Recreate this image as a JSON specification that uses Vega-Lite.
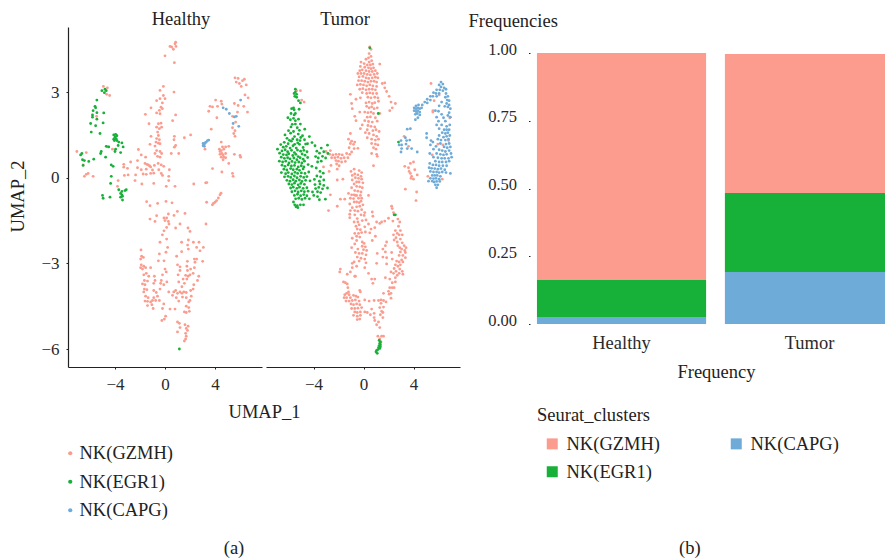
{"$schema":"https://vega.github.io/schema/vega-lite/v6.json","background":"white","padding":{"left":8,"top":9,"right":0,"bottom":0},"bounds":"flush","spacing":4,
"resolve":{"scale":{"color":"independent"},"legend":{"color":"independent"}},
"config":{"view":{"stroke":null},"font":"Liberation Serif","axis":{"grid":false,"labelFont":"Liberation Serif","titleFont":"Liberation Serif","labelFontSize":17,"titleFontSize":18.5,"labelColor":"#2a2a2a","titleColor":"#222222","titleFontWeight":"normal","domainColor":"#222222","tickColor":"#222222","labelFlush":false},"legend":{"labelFont":"Liberation Serif","titleFont":"Liberation Serif","labelFontSize":18.5,"titleFontSize":18.5,"titleFontWeight":"normal","labelColor":"#222222","titleColor":"#222222"},"title":{"font":"Liberation Serif","fontSize":18.5,"fontWeight":"normal","color":"#222222"}},
"datasets":{
"healthy":[
{"x":0.8,"y":4.69,"c":"G"},{"x":0.53,"y":4.58,"c":"G"},{"x":0.85,"y":4.75,"c":"G"},{"x":0.67,"y":4.5,"c":"G"},{"x":0.88,"y":4.6,"c":"G"},{"x":0.4,"y":4.6,"c":"G"},{"x":0,"y":4.27,"c":"G"},{"x":0.75,"y":4.03,"c":"G"},
{"x":-4.93,"y":3.2,"c":"G"},{"x":-4.61,"y":3.15,"c":"G"},{"x":-4.67,"y":2.92,"c":"G"},{"x":-4.43,"y":2.88,"c":"G"},{"x":-5.47,"y":2.15,"c":"G"},
{"x":-0.13,"y":3.2,"c":"G"},{"x":-0.4,"y":3.06,"c":"G"},{"x":0.72,"y":3,"c":"G"},{"x":-0.13,"y":2.88,"c":"G"},{"x":-0.4,"y":2.77,"c":"G"},{"x":0,"y":2.77,"c":"G"},{"x":-0.67,"y":2.7,"c":"G"},{"x":-0.21,"y":2.62,"c":"G"},{"x":-1.12,"y":2.45,"c":"G"},{"x":-0.32,"y":2.47,"c":"G"},{"x":-0.21,"y":2.42,"c":"G"},{"x":-0.45,"y":2.36,"c":"G"},{"x":-0.67,"y":2.27,"c":"G"},{"x":-0.4,"y":2.24,"c":"G"},{"x":-1.57,"y":2.22,"c":"G"},{"x":0.85,"y":2.2,"c":"G"},{"x":0.61,"y":2,"c":"G"},{"x":-1.28,"y":1.89,"c":"G"},{"x":-0.53,"y":1.89,"c":"G"},{"x":-0.32,"y":1.91,"c":"G"},{"x":-0.67,"y":1.77,"c":"G"},{"x":-0.45,"y":1.72,"c":"G"},{"x":-0.27,"y":1.77,"c":"G"},{"x":-0.59,"y":1.6,"c":"G"},{"x":1.55,"y":1.4,"c":"G"},{"x":2.05,"y":1.5,"c":"G"},{"x":-1.12,"y":1.45,"c":"G"},{"x":-0.53,"y":1.48,"c":"G"},{"x":-0.67,"y":1.37,"c":"G"},{"x":-0.45,"y":1.33,"c":"G"},{"x":0.75,"y":1.45,"c":"G"},{"x":0.72,"y":1.33,"c":"G"},{"x":-0.72,"y":1.25,"c":"G"},{"x":-0.53,"y":1.21,"c":"G"},{"x":-1.2,"y":1.17,"c":"G"},{"x":-0.8,"y":1.11,"c":"G"},{"x":-0.4,"y":1.19,"c":"G"},{"x":-2.13,"y":0.99,"c":"G"},{"x":0.85,"y":1.13,"c":"G"},{"x":0.75,"y":1.07,"c":"G"},{"x":-0.67,"y":0.95,"c":"G"},{"x":-0.8,"y":0.85,"c":"G"},{"x":-0.4,"y":0.92,"c":"G"},{"x":-0.27,"y":0.85,"c":"G"},{"x":-0.6,"y":0.75,"c":"G"},{"x":-1.9,"y":0.8,"c":"G"},{"x":-1.55,"y":0.72,"c":"G"},{"x":-0.4,"y":0.72,"c":"G"},{"x":0.5,"y":0.85,"c":"G"},{"x":1.1,"y":0.85,"c":"G"},{"x":-2.2,"y":0.6,"c":"G"},{"x":-2.75,"y":0.55,"c":"G"},{"x":-1.6,"y":0.5,"c":"G"},{"x":-1.45,"y":0.47,"c":"G"},{"x":-1.35,"y":0.45,"c":"G"},{"x":-1.25,"y":0.42,"c":"G"},{"x":-1.15,"y":0.38,"c":"G"},{"x":-0.55,"y":0.5,"c":"G"},{"x":-0.85,"y":0.43,"c":"G"},{"x":-0.3,"y":0.45,"c":"G"},{"x":-0.1,"y":0.4,"c":"G"},{"x":-3.3,"y":0.37,"c":"G"},{"x":-3.0,"y":0.33,"c":"G"},{"x":-2.2,"y":0.35,"c":"G"},{"x":-1.9,"y":0.28,"c":"G"},{"x":-1.5,"y":0.3,"c":"G"},{"x":-1.0,"y":0.27,"c":"G"},{"x":-0.5,"y":0.28,"c":"G"},{"x":0.35,"y":0.28,"c":"G"},{"x":-2.35,"y":0.1,"c":"G"},{"x":-1.75,"y":0.13,"c":"G"},{"x":-1.5,"y":0.12,"c":"G"},{"x":-1.15,"y":0.15,"c":"G"},{"x":-0.9,"y":0.16,"c":"G"},{"x":-0.3,"y":0.15,"c":"G"},{"x":-0.2,"y":0.08,"c":"G"},{"x":-3.25,"y":0.08,"c":"G"},{"x":-2.95,"y":0.1,"c":"G"},{"x":-3.75,"y":-0.1,"c":"G"},{"x":0.3,"y":0.05,"c":"G"},{"x":-2.4,"y":-0.1,"c":"G"},{"x":-1.85,"y":-0.22,"c":"G"},{"x":-0.9,"y":-0.2,"c":"G"},{"x":0.3,"y":-0.1,"c":"G"},{"x":0.1,"y":-0.3,"c":"G"},{"x":0.8,"y":-0.3,"c":"G"},{"x":-3.8,"y":-0.3,"c":"G"},{"x":2.3,"y":-0.22,"c":"G"},{"x":3.25,"y":-0.18,"c":"G"},{"x":3.35,"y":-0.17,"c":"G"},
{"x":-7.05,"y":0.92,"c":"G"},{"x":-6.3,"y":0.88,"c":"G"},{"x":-6.55,"y":0.45,"c":"G"},{"x":-6.3,"y":0.12,"c":"G"},{"x":-6.45,"y":0.05,"c":"G"},{"x":-6.15,"y":0.15,"c":"G"},{"x":-5.75,"y":0.05,"c":"G"},{"x":-3.3,"y":0.47,"c":"G"},{"x":-4.6,"y":1.08,"c":"G"},{"x":-4.2,"y":1.0,"c":"G"},
{"x":4.05,"y":2.72,"c":"G"},{"x":4.5,"y":2.68,"c":"G"},{"x":4.55,"y":2.58,"c":"G"},{"x":3.6,"y":2.5,"c":"G"},{"x":3.8,"y":2.48,"c":"G"},{"x":3.5,"y":2.33,"c":"G"},{"x":4.2,"y":2.5,"c":"G"},{"x":4.15,"y":2.1,"c":"G"},{"x":3.7,"y":1.7,"c":"G"},{"x":5.4,"y":2.15,"c":"G"},{"x":5.65,"y":1.95,"c":"G"},{"x":5.8,"y":2.3,"c":"G"},{"x":5.85,"y":2.53,"c":"G"},{"x":6.3,"y":2.5,"c":"G"},{"x":6.65,"y":2.8,"c":"G"},{"x":6.4,"y":2.9,"c":"G"},{"x":6.6,"y":2.3,"c":"G"},{"x":5.55,"y":2.6,"c":"G"},{"x":5.5,"y":1.55,"c":"G"},{"x":5.6,"y":1.65,"c":"G"},{"x":5.4,"y":1.75,"c":"G"},{"x":5.6,"y":1.45,"c":"G"},{"x":5.6,"y":3.5,"c":"G"},{"x":5.85,"y":3.48,"c":"G"},{"x":5.95,"y":3.3,"c":"G"},{"x":6.2,"y":3.4,"c":"G"},{"x":6.35,"y":3.45,"c":"G"},{"x":5.7,"y":3.35,"c":"G"},{"x":6.1,"y":3.2,"c":"G"},{"x":6.5,"y":3.25,"c":"G"},
{"x":3.2,"y":1.0,"c":"G"},{"x":4.5,"y":1.25,"c":"G"},{"x":4.6,"y":1.08,"c":"G"},{"x":4.35,"y":1.0,"c":"G"},{"x":4.4,"y":0.92,"c":"G"},{"x":4.5,"y":0.95,"c":"G"},{"x":4.7,"y":1.0,"c":"G"},{"x":4.85,"y":1.08,"c":"G"},{"x":5.1,"y":1.1,"c":"G"},{"x":4.4,"y":0.82,"c":"G"},{"x":4.55,"y":0.85,"c":"G"},{"x":4.65,"y":0.8,"c":"G"},{"x":4.85,"y":0.85,"c":"G"},{"x":4.5,"y":0.72,"c":"G"},{"x":4.7,"y":0.72,"c":"G"},{"x":4.85,"y":0.7,"c":"G"},{"x":4.65,"y":0.63,"c":"G"},{"x":5.55,"y":0.82,"c":"G"},{"x":6.0,"y":0.78,"c":"G"},{"x":6.05,"y":0.72,"c":"G"},{"x":5.1,"y":0.5,"c":"G"},{"x":3.8,"y":0.32,"c":"G"},{"x":4.55,"y":0.2,"c":"G"},{"x":5.4,"y":0.15,"c":"G"},{"x":5.45,"y":0.05,"c":"G"},
{"x":-1.47,"y":-0.84,"c":"G"},{"x":-1.2,"y":-0.98,"c":"G"},{"x":-0.59,"y":-0.9,"c":"G"},{"x":0.08,"y":-0.83,"c":"G"},{"x":0.56,"y":-0.88,"c":"G"},{"x":3.33,"y":-0.86,"c":"G"},{"x":3.79,"y":-0.95,"c":"G"},{"x":3.87,"y":-0.9,"c":"G"},{"x":4,"y":-0.86,"c":"G"},{"x":4.13,"y":-0.8,"c":"G"},{"x":4.27,"y":-0.71,"c":"G"},{"x":4.4,"y":-0.6,"c":"G"},{"x":4.48,"y":-0.54,"c":"G"},
{"x":0.99,"y":-1.18,"c":"G"},{"x":0.27,"y":-1.27,"c":"G"},{"x":0.72,"y":-1.32,"c":"G"},{"x":1.6,"y":-1.25,"c":"G"},{"x":-0.67,"y":-1.33,"c":"G"},{"x":-0.08,"y":-1.41,"c":"G"},{"x":0.13,"y":-1.41,"c":"G"},{"x":-1.2,"y":-1.45,"c":"G"},{"x":-0.8,"y":-1.53,"c":"G"},{"x":0,"y":-1.5,"c":"G"},{"x":0.27,"y":-1.53,"c":"G"},{"x":0.32,"y":-1.62,"c":"G"},{"x":1.2,"y":-1.62,"c":"G"},{"x":3.28,"y":-1.62,"c":"G"},{"x":0.13,"y":-1.74,"c":"G"},{"x":0.85,"y":-1.76,"c":"G"},{"x":1.84,"y":-1.76,"c":"G"},{"x":2,"y":-1.88,"c":"G"},{"x":-0.08,"y":-1.86,"c":"G"},{"x":-0.21,"y":-2,"c":"G"},{"x":-0.4,"y":-2.26,"c":"G"},{"x":0.13,"y":-2.15,"c":"G"},{"x":1.33,"y":-2.26,"c":"G"},{"x":1.87,"y":-2.18,"c":"G"},{"x":2.27,"y":-2.26,"c":"G"},{"x":2.72,"y":-2.26,"c":"G"},{"x":1.81,"y":-2.36,"c":"G"},{"x":0.21,"y":-2.44,"c":"G"},{"x":1.87,"y":-2.5,"c":"G"},{"x":2.53,"y":-2.44,"c":"G"},{"x":3.07,"y":-2.44,"c":"G"},{"x":-1.92,"y":-2.53,"c":"G"},{"x":1.33,"y":-2.59,"c":"G"},{"x":2.8,"y":-2.56,"c":"G"},{"x":-0.45,"y":-2.67,"c":"G"},{"x":0.08,"y":-2.61,"c":"G"},{"x":0.93,"y":-2.75,"c":"G"},{"x":-1.87,"y":-2.75,"c":"G"},{"x":-1.73,"y":-2.79,"c":"G"},{"x":-1.95,"y":-2.85,"c":"G"},{"x":-0.53,"y":-2.91,"c":"G"},{"x":-0.08,"y":-2.91,"c":"G"},{"x":1.79,"y":-2.93,"c":"G"},{"x":2.35,"y":-2.85,"c":"G"},{"x":2.53,"y":-2.85,"c":"G"},{"x":3.01,"y":-2.93,"c":"G"},{"x":2.4,"y":-2.96,"c":"G"},
{"x":-1.9,"y":-3.05,"c":"G"},{"x":-1.95,"y":-3.15,"c":"G"},{"x":-1.7,"y":-3.1,"c":"G"},{"x":-1.8,"y":-3.2,"c":"G"},{"x":-1.55,"y":-3.15,"c":"G"},{"x":-1.15,"y":-3.15,"c":"G"},{"x":0,"y":-3.2,"c":"G"},{"x":1.0,"y":-3.05,"c":"G"},{"x":1.2,"y":-3.12,"c":"G"},{"x":1.75,"y":-3.1,"c":"G"},{"x":2.05,"y":-3.2,"c":"G"},{"x":2.35,"y":-3.15,"c":"G"},{"x":1.2,"y":-3.25,"c":"G"},{"x":1.8,"y":-3.25,"c":"G"},{"x":-1.7,"y":-3.4,"c":"G"},{"x":-1.5,"y":-3.35,"c":"G"},{"x":-1.3,"y":-3.45,"c":"G"},{"x":-0.85,"y":-3.45,"c":"G"},{"x":-0.2,"y":-3.4,"c":"G"},{"x":0.1,"y":-3.3,"c":"G"},{"x":1.05,"y":-3.4,"c":"G"},{"x":1.65,"y":-3.42,"c":"G"},{"x":1.85,"y":-3.45,"c":"G"},{"x":2.0,"y":-3.4,"c":"G"},{"x":2.25,"y":-3.35,"c":"G"},{"x":2.7,"y":-3.45,"c":"G"},{"x":1.75,"y":-3.55,"c":"G"},{"x":1.45,"y":-3.55,"c":"G"},{"x":-0.3,"y":-3.6,"c":"G"},{"x":-0.8,"y":-3.6,"c":"G"},{"x":-1.65,"y":-3.6,"c":"G"},{"x":-1.4,"y":-3.62,"c":"G"},{"x":-0.9,"y":-3.7,"c":"G"},{"x":-1.8,"y":-3.72,"c":"G"},{"x":-1.6,"y":-3.75,"c":"G"},{"x":-0.35,"y":-3.7,"c":"G"},{"x":-0.1,"y":-3.75,"c":"G"},{"x":0.15,"y":-3.65,"c":"G"},{"x":1.1,"y":-3.65,"c":"G"},{"x":1.55,"y":-3.7,"c":"G"},{"x":2.6,"y":-3.6,"c":"G"},{"x":2.3,"y":-3.75,"c":"G"},{"x":1.35,"y":-3.82,"c":"G"},{"x":-1.65,"y":-3.9,"c":"G"},{"x":-1.45,"y":-3.92,"c":"G"},{"x":-1.7,"y":-4.0,"c":"G"},{"x":-0.9,"y":-3.95,"c":"G"},{"x":-0.7,"y":-4.02,"c":"G"},{"x":-0.4,"y":-3.9,"c":"G"},{"x":0.3,"y":-4.0,"c":"G"},{"x":0.7,"y":-4.0,"c":"G"},{"x":0.85,"y":-3.95,"c":"G"},{"x":1.0,"y":-4.05,"c":"G"},{"x":1.2,"y":-4.0,"c":"G"},{"x":1.35,"y":-4.05,"c":"G"},{"x":1.5,"y":-4.0,"c":"G"},{"x":1.7,"y":-4.02,"c":"G"},{"x":2.05,"y":-3.95,"c":"G"},{"x":2.25,"y":-3.9,"c":"G"},{"x":-1.55,"y":-4.15,"c":"G"},{"x":-1.35,"y":-4.2,"c":"G"},{"x":-0.9,"y":-4.2,"c":"G"},{"x":-0.6,"y":-4.15,"c":"G"},{"x":0.6,"y":-4.12,"c":"G"},{"x":0.9,"y":-4.2,"c":"G"},{"x":1.4,"y":-4.18,"c":"G"},{"x":1.7,"y":-4.2,"c":"G"},{"x":2.1,"y":-4.15,"c":"G"},{"x":-1.6,"y":-4.32,"c":"G"},{"x":-1.4,"y":-4.33,"c":"G"},{"x":-1.15,"y":-4.35,"c":"G"},{"x":-1.0,"y":-4.3,"c":"G"},{"x":-0.75,"y":-4.3,"c":"G"},{"x":-0.45,"y":-4.3,"c":"G"},{"x":1.1,"y":-4.32,"c":"G"},{"x":1.9,"y":-4.35,"c":"G"},{"x":2.0,"y":-4.3,"c":"G"},{"x":-1.4,"y":-4.48,"c":"G"},{"x":-1.05,"y":-4.45,"c":"G"},{"x":-0.95,"y":-4.58,"c":"G"},{"x":-0.1,"y":-4.42,"c":"G"},{"x":-0.2,"y":-4.58,"c":"G"},{"x":0.4,"y":-4.6,"c":"G"},{"x":0.8,"y":-4.6,"c":"G"},{"x":1.7,"y":-4.5,"c":"G"},{"x":1.9,"y":-4.55,"c":"G"},{"x":1.55,"y":-4.7,"c":"G"},{"x":1.7,"y":-4.72,"c":"G"},{"x":1.95,"y":-4.68,"c":"G"},{"x":0.05,"y":-4.85,"c":"G"},{"x":-0.05,"y":-4.95,"c":"G"},{"x":-0.25,"y":-5,"c":"G"},{"x":1,"y":-5.05,"c":"G"},{"x":1.15,"y":-5.1,"c":"G"},{"x":1.6,"y":-5.15,"c":"G"},{"x":1.85,"y":-5.2,"c":"G"},{"x":1.2,"y":-5.25,"c":"G"},{"x":1.7,"y":-5.28,"c":"G"},{"x":1.8,"y":-5.35,"c":"G"},{"x":1.0,"y":-5.4,"c":"G"},{"x":1.65,"y":-5.45,"c":"G"},{"x":1.7,"y":-5.55,"c":"G"},{"x":1.65,"y":-5.65,"c":"G"},{"x":1.55,"y":-5.72,"c":"G"},
{"x":-5.05,"y":3.05,"c":"E"},{"x":-4.8,"y":3.1,"c":"E"},{"x":-4.7,"y":3.05,"c":"E"},{"x":-4.85,"y":2.98,"c":"E"},{"x":-5.45,"y":2.72,"c":"E"},{"x":-5.6,"y":2.5,"c":"E"},{"x":-5.55,"y":2.45,"c":"E"},{"x":-5.75,"y":2.35,"c":"E"},{"x":-5.8,"y":2.2,"c":"E"},{"x":-5.8,"y":2.12,"c":"E"},{"x":-5.45,"y":2.28,"c":"E"},{"x":-4.9,"y":2.27,"c":"E"},{"x":-5.45,"y":2.05,"c":"E"},{"x":-5.95,"y":1.9,"c":"E"},{"x":-5.55,"y":1.82,"c":"E"},{"x":-4.95,"y":1.92,"c":"E"},{"x":-5.9,"y":1.6,"c":"E"},{"x":-5.2,"y":1.55,"c":"E"},
{"x":-4.1,"y":1.5,"c":"E"},{"x":-3.95,"y":1.52,"c":"E"},{"x":-3.85,"y":1.47,"c":"E"},{"x":-4.0,"y":1.42,"c":"E"},{"x":-3.9,"y":1.36,"c":"E"},{"x":-4.1,"y":1.35,"c":"E"},{"x":-4.05,"y":1.3,"c":"E"},{"x":-3.85,"y":1.3,"c":"E"},{"x":-3.7,"y":1.25,"c":"E"},{"x":-3.45,"y":1.22,"c":"E"},{"x":-3.75,"y":1.13,"c":"E"},{"x":-3.35,"y":1.08,"c":"E"},{"x":-4.7,"y":1.1,"c":"E"},{"x":-4.5,"y":1.08,"c":"E"},{"x":-3.95,"y":1.0,"c":"E"},{"x":-4.0,"y":0.92,"c":"E"},{"x":-3.55,"y":0.88,"c":"E"},{"x":-5.1,"y":0.92,"c":"E"},{"x":-5.15,"y":0.85,"c":"E"},{"x":-4.75,"y":0.72,"c":"E"},{"x":-6.75,"y":0.8,"c":"E"},{"x":-6.65,"y":0.85,"c":"E"},{"x":-6.6,"y":0.63,"c":"E"},{"x":-6.45,"y":0.6,"c":"E"},{"x":-6.1,"y":0.57,"c":"E"},{"x":-5.7,"y":0.65,"c":"E"},{"x":-6.55,"y":0.43,"c":"E"},{"x":-4.3,"y":0.45,"c":"E"},{"x":-4.15,"y":0.4,"c":"E"},{"x":-4.3,"y":0.05,"c":"E"},{"x":-4.35,"y":-0.2,"c":"E"},{"x":-3.7,"y":-0.42,"c":"E"},{"x":-3.45,"y":-0.48,"c":"E"},{"x":-3.55,"y":-0.55,"c":"E"},{"x":-3.45,"y":-0.6,"c":"E"},{"x":-3.4,"y":-0.65,"c":"E"},{"x":-3.2,"y":-0.45,"c":"E"},{"x":-3.1,"y":-0.42,"c":"E"},{"x":-5.0,"y":-0.62,"c":"E"},{"x":-4.95,"y":-0.72,"c":"E"},{"x":-4.4,"y":-0.68,"c":"E"},{"x":-3.55,"y":-0.68,"c":"E"},{"x":-3.4,"y":-0.78,"c":"E"},{"x":1.15,"y":-6,"c":"E"},
{"x":3.05,"y":1.2,"c":"C"},{"x":3.15,"y":1.18,"c":"C"},{"x":3.2,"y":1.22,"c":"C"},{"x":3.05,"y":1.12,"c":"C"},{"x":3.15,"y":1.1,"c":"C"},{"x":3.3,"y":1.25,"c":"C"},{"x":3.4,"y":1.3,"c":"C"},{"x":3.5,"y":1.32,"c":"C"},{"x":4.65,"y":2.45,"c":"C"},{"x":4.9,"y":2.4,"c":"C"},{"x":5.15,"y":2.25,"c":"C"},{"x":5.45,"y":1.9,"c":"C"},{"x":5.9,"y":1.8,"c":"C"},{"x":5.55,"y":2.13,"c":"C"},{"x":5.7,"y":2.15,"c":"C"},{"x":6.05,"y":2.72,"c":"C"}
],
"tumor":[
{"x":0.5,"y":4.58,"c":"G"},{"x":0.6,"y":4.5,"c":"G"},{"x":0.45,"y":4.35,"c":"G"},{"x":0.6,"y":4.25,"c":"G"},{"x":0.4,"y":4.2,"c":"G"},{"x":0.65,"y":4.1,"c":"G"},{"x":0.2,"y":4.15,"c":"G"},{"x":0.45,"y":4.05,"c":"G"},{"x":-0.2,"y":4.05,"c":"G"},{"x":0.05,"y":4.0,"c":"G"},{"x":0.3,"y":3.95,"c":"G"},{"x":0.55,"y":3.95,"c":"G"},{"x":0.75,"y":3.98,"c":"G"},{"x":1.3,"y":3.98,"c":"G"},{"x":-0.25,"y":3.9,"c":"G"},{"x":0.1,"y":3.87,"c":"G"},{"x":0.4,"y":3.85,"c":"G"},{"x":0.6,"y":3.82,"c":"G"},{"x":0.8,"y":3.85,"c":"G"},{"x":-0.3,"y":3.75,"c":"G"},{"x":-0.1,"y":3.78,"c":"G"},{"x":0.2,"y":3.75,"c":"G"},{"x":0.45,"y":3.72,"c":"G"},{"x":0.7,"y":3.72,"c":"G"},{"x":0.95,"y":3.75,"c":"G"},{"x":-0.45,"y":3.65,"c":"G"},{"x":-0.2,"y":3.65,"c":"G"},{"x":0.05,"y":3.65,"c":"G"},{"x":0.3,"y":3.62,"c":"G"},{"x":0.55,"y":3.6,"c":"G"},{"x":0.85,"y":3.62,"c":"G"},{"x":1.1,"y":3.65,"c":"G"},{"x":-0.35,"y":3.53,"c":"G"},{"x":-0.05,"y":3.55,"c":"G"},{"x":0.2,"y":3.5,"c":"G"},{"x":0.42,"y":3.48,"c":"G"},{"x":0.7,"y":3.5,"c":"G"},{"x":0.95,"y":3.52,"c":"G"},{"x":1.15,"y":3.5,"c":"G"},{"x":-0.4,"y":3.4,"c":"G"},{"x":-0.15,"y":3.4,"c":"G"},{"x":0.1,"y":3.38,"c":"G"},{"x":0.35,"y":3.35,"c":"G"},{"x":0.6,"y":3.38,"c":"G"},{"x":0.85,"y":3.38,"c":"G"},{"x":1.05,"y":3.35,"c":"G"},{"x":1.5,"y":3.3,"c":"G"},{"x":1.7,"y":3.32,"c":"G"},{"x":-0.5,"y":3.25,"c":"G"},{"x":-0.25,"y":3.27,"c":"G"},{"x":0,"y":3.25,"c":"G"},{"x":0.25,"y":3.22,"c":"G"},{"x":0.5,"y":3.25,"c":"G"},{"x":0.75,"y":3.22,"c":"G"},{"x":1.05,"y":3.2,"c":"G"},{"x":1.7,"y":3.15,"c":"G"},{"x":-0.3,"y":3.1,"c":"G"},{"x":-0.05,"y":3.12,"c":"G"},{"x":0.2,"y":3.08,"c":"G"},{"x":0.45,"y":3.1,"c":"G"},{"x":0.7,"y":3.1,"c":"G"},{"x":0.95,"y":3.08,"c":"G"},{"x":1.85,"y":3.02,"c":"G"},{"x":-1.05,"y":2.92,"c":"G"},{"x":-0.1,"y":2.98,"c":"G"},{"x":0.25,"y":2.95,"c":"G"},{"x":0.5,"y":2.97,"c":"G"},{"x":0.75,"y":2.95,"c":"G"},{"x":1.05,"y":2.95,"c":"G"},{"x":2.05,"y":2.85,"c":"G"},{"x":-0.6,"y":2.75,"c":"G"},{"x":-0.25,"y":2.8,"c":"G"},{"x":0.35,"y":2.82,"c":"G"},{"x":0.6,"y":2.8,"c":"G"},{"x":0.9,"y":2.82,"c":"G"},{"x":1.15,"y":2.8,"c":"G"},{"x":1.2,"y":2.68,"c":"G"},{"x":2.2,"y":2.65,"c":"G"},{"x":2.55,"y":2.6,"c":"G"},{"x":-0.95,"y":2.6,"c":"G"},{"x":0.2,"y":2.62,"c":"G"},{"x":0.45,"y":2.65,"c":"G"},{"x":0.7,"y":2.6,"c":"G"},{"x":0.9,"y":2.63,"c":"G"},{"x":2.3,"y":2.45,"c":"G"},{"x":-0.9,"y":2.42,"c":"G"},{"x":0.25,"y":2.5,"c":"G"},{"x":0.45,"y":2.45,"c":"G"},{"x":0.65,"y":2.48,"c":"G"},{"x":0.85,"y":2.42,"c":"G"},{"x":1.1,"y":2.45,"c":"G"},{"x":2.1,"y":2.35,"c":"G"},{"x":-0.3,"y":2.3,"c":"G"},{"x":0.1,"y":2.3,"c":"G"},{"x":0.35,"y":2.28,"c":"G"},{"x":0.6,"y":2.3,"c":"G"},{"x":0.8,"y":2.25,"c":"G"},{"x":1.3,"y":2.25,"c":"G"},{"x":-0.7,"y":2.15,"c":"G"},{"x":0.3,"y":2.12,"c":"G"},{"x":0.55,"y":2.13,"c":"G"},{"x":0.95,"y":2.1,"c":"G"},{"x":-0.6,"y":2.0,"c":"G"},{"x":0.1,"y":2.0,"c":"G"},{"x":0.4,"y":1.97,"c":"G"},{"x":0.7,"y":1.95,"c":"G"},{"x":1.1,"y":1.98,"c":"G"},{"x":-0.1,"y":1.85,"c":"G"},{"x":0.35,"y":1.83,"c":"G"},{"x":0.6,"y":1.8,"c":"G"},{"x":0.9,"y":1.78,"c":"G"},{"x":-0.25,"y":1.72,"c":"G"},{"x":0.3,"y":1.68,"c":"G"},{"x":0.75,"y":1.65,"c":"G"},{"x":1.0,"y":1.68,"c":"G"},{"x":1.25,"y":1.62,"c":"G"},{"x":-1.05,"y":1.55,"c":"G"},{"x":0.15,"y":1.58,"c":"G"},{"x":0.45,"y":1.55,"c":"G"},{"x":0.8,"y":1.5,"c":"G"},{"x":1.05,"y":1.45,"c":"G"},{"x":-1.2,"y":1.35,"c":"G"},{"x":0.3,"y":1.4,"c":"G"},{"x":0.65,"y":1.35,"c":"G"},{"x":0.95,"y":1.32,"c":"G"},{"x":1.2,"y":1.35,"c":"G"},{"x":-0.95,"y":1.28,"c":"G"},{"x":-0.7,"y":1.25,"c":"G"},{"x":-0.8,"y":1.17,"c":"G"},{"x":-1.05,"y":1.2,"c":"G"},{"x":0.65,"y":1.2,"c":"G"},{"x":0.95,"y":1.18,"c":"G"},{"x":1.15,"y":1.15,"c":"G"},{"x":-1.15,"y":1.05,"c":"G"},{"x":-0.75,"y":1.02,"c":"G"},{"x":-0.45,"y":1.03,"c":"G"},{"x":0.8,"y":1.05,"c":"G"},{"x":1.0,"y":1.0,"c":"G"},{"x":0.65,"y":0.85,"c":"G"},{"x":1.05,"y":0.82,"c":"G"},{"x":1.1,"y":0.75,"c":"G"},
{"x":-3.0,"y":0.92,"c":"G"},{"x":-2.65,"y":0.95,"c":"G"},{"x":-2.7,"y":0.82,"c":"G"},{"x":-2.45,"y":0.8,"c":"G"},{"x":-2.2,"y":0.82,"c":"G"},{"x":-1.95,"y":0.82,"c":"G"},{"x":-1.7,"y":0.8,"c":"G"},{"x":-1.35,"y":0.85,"c":"G"},{"x":-1.1,"y":0.82,"c":"G"},{"x":-0.95,"y":0.9,"c":"G"},{"x":-2.55,"y":0.7,"c":"G"},{"x":-2.3,"y":0.7,"c":"G"},{"x":-2.05,"y":0.72,"c":"G"},{"x":-1.8,"y":0.68,"c":"G"},{"x":-1.55,"y":0.7,"c":"G"},{"x":-1.25,"y":0.7,"c":"G"},{"x":-2.2,"y":0.6,"c":"G"},{"x":-2.0,"y":0.58,"c":"G"},{"x":-1.75,"y":0.55,"c":"G"},{"x":-1.45,"y":0.57,"c":"G"},{"x":-2.15,"y":0.48,"c":"G"},{"x":-1.95,"y":0.42,"c":"G"},{"x":-2.6,"y":0.43,"c":"G"},{"x":-2.75,"y":0.22,"c":"G"},{"x":-3.2,"y":0.38,"c":"G"},{"x":-2.1,"y":0.3,"c":"G"},
{"x":0.8,"y":0.42,"c":"G"},{"x":-0.75,"y":0.3,"c":"G"},{"x":-0.35,"y":0.25,"c":"G"},{"x":-1.0,"y":0.22,"c":"G"},{"x":-0.15,"y":0.18,"c":"G"},{"x":-0.7,"y":0.13,"c":"G"},{"x":-0.45,"y":0.1,"c":"G"},{"x":-0.9,"y":0.08,"c":"G"},{"x":-0.2,"y":0.05,"c":"G"},{"x":-0.65,"y":0,"c":"G"},{"x":-0.4,"y":-0.02,"c":"G"},{"x":-0.15,"y":-0.05,"c":"G"},{"x":-0.9,"y":-0.08,"c":"G"},{"x":-1.65,"y":-0.05,"c":"G"},{"x":-2.1,"y":-0.08,"c":"G"},{"x":-0.55,"y":-0.15,"c":"G"},{"x":-0.35,"y":-0.15,"c":"G"},{"x":-0.75,"y":-0.22,"c":"G"},{"x":-0.05,"y":-0.18,"c":"G"},{"x":-0.95,"y":-0.35,"c":"G"},{"x":-0.55,"y":-0.3,"c":"G"},{"x":-0.3,"y":-0.32,"c":"G"},{"x":-0.1,"y":-0.35,"c":"G"},{"x":-0.7,"y":-0.45,"c":"G"},{"x":-0.45,"y":-0.47,"c":"G"},{"x":-0.2,"y":-0.5,"c":"G"},{"x":-1.2,"y":-0.55,"c":"G"},{"x":-0.95,"y":-0.6,"c":"G"},{"x":-0.75,"y":-0.6,"c":"G"},{"x":-0.55,"y":-0.62,"c":"G"},{"x":-0.25,"y":-0.62,"c":"G"},{"x":-1.05,"y":-0.72,"c":"G"},{"x":-0.8,"y":-0.73,"c":"G"},{"x":-0.4,"y":-0.72,"c":"G"},{"x":-0.15,"y":-0.72,"c":"G"},{"x":0.4,"y":-0.62,"c":"G"},{"x":-1.5,"y":-0.75,"c":"G"},
{"x":-0.65,"y":-0.62,"c":"G"},{"x":-0.2,"y":-0.82,"c":"G"},{"x":-0.55,"y":-0.85,"c":"G"},{"x":-0.75,"y":-0.85,"c":"G"},{"x":-0.35,"y":-0.87,"c":"G"},{"x":-2.65,"y":-0.6,"c":"G"},{"x":-2.8,"y":-1.15,"c":"G"},{"x":-2.1,"y":-1,"c":"G"},{"x":-1.85,"y":-0.75,"c":"G"},{"x":-1.1,"y":-0.92,"c":"G"},{"x":-0.9,"y":-1.05,"c":"G"},{"x":-0.55,"y":-1.02,"c":"G"},{"x":-0.3,"y":-1,"c":"G"},{"x":-0.05,"y":-0.95,"c":"G"},{"x":-1.05,"y":-1.15,"c":"G"},{"x":-0.7,"y":-1.15,"c":"G"},{"x":-0.45,"y":-1.17,"c":"G"},{"x":-0.15,"y":-1.12,"c":"G"},{"x":0.1,"y":-1.22,"c":"G"},{"x":-1.1,"y":-1.28,"c":"G"},{"x":-0.7,"y":-1.3,"c":"G"},{"x":-0.2,"y":-1.3,"c":"G"},{"x":0.05,"y":-1.32,"c":"G"},{"x":0.7,"y":-1.2,"c":"G"},{"x":-1.1,"y":-1.4,"c":"G"},{"x":-0.5,"y":-1.43,"c":"G"},{"x":-0.45,"y":-1.55,"c":"G"},{"x":-0.75,"y":-1.55,"c":"G"},{"x":0.2,"y":-1.48,"c":"G"},{"x":0.75,"y":-1.35,"c":"G"},{"x":-0.1,"y":-1.5,"c":"G"},{"x":-0.35,"y":-1.65,"c":"G"},{"x":-0.6,"y":-1.7,"c":"G"},{"x":0.4,"y":-1.62,"c":"G"},{"x":1.05,"y":-1.55,"c":"G"},{"x":1.3,"y":-1.6,"c":"G"},{"x":0.1,"y":-1.72,"c":"G"},{"x":1.45,"y":-1.55,"c":"G"},{"x":-0.5,"y":-1.8,"c":"G"},{"x":-0.25,"y":-1.82,"c":"G"},{"x":0.6,"y":-1.8,"c":"G"},{"x":0.9,"y":-1.75,"c":"G"},{"x":-0.7,"y":-1.95,"c":"G"},{"x":-0.4,"y":-1.95,"c":"G"},{"x":-0.15,"y":-1.92,"c":"G"},{"x":0.15,"y":-1.9,"c":"G"},{"x":0.5,"y":-1.93,"c":"G"},{"x":-0.55,"y":-2.05,"c":"G"},{"x":-0.3,"y":-2.08,"c":"G"},{"x":-0.9,"y":-2.12,"c":"G"},{"x":0.95,"y":-2.05,"c":"G"},{"x":-0.55,"y":-2.2,"c":"G"},{"x":-0.7,"y":-2.32,"c":"G"},{"x":-0.1,"y":-2.25,"c":"G"},{"x":0.05,"y":-2.3,"c":"G"},{"x":-0.1,"y":-2.4,"c":"G"},{"x":0.15,"y":-2.42,"c":"G"},{"x":-0.95,"y":-2.45,"c":"G"},{"x":-0.45,"y":-2.5,"c":"G"},{"x":0,"y":-2.52,"c":"G"},{"x":0.25,"y":-2.55,"c":"G"},{"x":-0.65,"y":-2.62,"c":"G"},{"x":-0.35,"y":-2.65,"c":"G"},{"x":-0.1,"y":-2.65,"c":"G"},{"x":0.2,"y":-2.7,"c":"G"},{"x":-0.5,"y":-2.78,"c":"G"},{"x":-0.2,"y":-2.82,"c":"G"},{"x":0.1,"y":-2.85,"c":"G"},{"x":1.1,"y":-2.65,"c":"G"},{"x":-0.75,"y":-2.95,"c":"G"},{"x":-0.35,"y":-2.92,"c":"G"},{"x":0.2,"y":-2.98,"c":"G"},{"x":-0.9,"y":-3.0,"c":"G"},{"x":-0.9,"y":-3.15,"c":"G"},{"x":-0.55,"y":-3.1,"c":"G"},{"x":0.1,"y":-3.15,"c":"G"},{"x":1.05,"y":-3.0,"c":"G"},{"x":-1.05,"y":-3.3,"c":"G"},{"x":-0.65,"y":-3.45,"c":"G"},{"x":-1.85,"y":-3.2,"c":"G"},{"x":-1.9,"y":-3.3,"c":"G"},{"x":-1.3,"y":-3.38,"c":"G"},{"x":-0.7,"y":-3.45,"c":"G"},{"x":0.4,"y":-3.35,"c":"G"},{"x":0.65,"y":-3.55,"c":"G"},{"x":0.9,"y":-3.55,"c":"G"},{"x":0.75,"y":-3.7,"c":"G"},
{"x":-1.6,"y":-3.65,"c":"G"},{"x":-1.45,"y":-3.68,"c":"G"},{"x":-1.3,"y":-3.72,"c":"G"},{"x":-1.25,"y":-3.85,"c":"G"},{"x":-1.2,"y":-4.0,"c":"G"},{"x":-0.3,"y":-3.95,"c":"G"},{"x":-0.25,"y":-4.0,"c":"G"},{"x":-1.35,"y":-4.05,"c":"G"},{"x":-1.5,"y":-4.1,"c":"G"},{"x":-1.15,"y":-4.1,"c":"G"},{"x":-1.55,"y":-4.2,"c":"G"},{"x":-1.35,"y":-4.2,"c":"G"},{"x":-1.05,"y":-4.2,"c":"G"},{"x":-0.8,"y":-4.12,"c":"G"},{"x":-0.6,"y":-4.15,"c":"G"},{"x":-0.45,"y":-4.18,"c":"G"},{"x":-1.4,"y":-4.32,"c":"G"},{"x":-1.15,"y":-4.32,"c":"G"},{"x":-0.9,"y":-4.3,"c":"G"},{"x":-0.65,"y":-4.28,"c":"G"},{"x":-0.35,"y":-4.32,"c":"G"},{"x":0.1,"y":-4.28,"c":"G"},{"x":0.45,"y":-4.32,"c":"G"},{"x":0.85,"y":-4.3,"c":"G"},{"x":1.2,"y":-4.3,"c":"G"},{"x":1.4,"y":-4.28,"c":"G"},{"x":1.6,"y":-4.3,"c":"G"},{"x":-1.0,"y":-4.42,"c":"G"},{"x":-0.8,"y":-4.45,"c":"G"},{"x":-0.55,"y":-4.42,"c":"G"},{"x":-0.3,"y":-4.45,"c":"G"},{"x":1.4,"y":-4.4,"c":"G"},{"x":1.8,"y":-4.35,"c":"G"},{"x":-0.95,"y":-4.58,"c":"G"},{"x":-0.7,"y":-4.58,"c":"G"},{"x":-0.45,"y":-4.57,"c":"G"},{"x":-0.15,"y":-4.55,"c":"G"},{"x":1.3,"y":-4.55,"c":"G"},{"x":1.6,"y":-4.53,"c":"G"},{"x":-0.7,"y":-4.7,"c":"G"},{"x":-0.5,"y":-4.72,"c":"G"},{"x":-0.25,"y":-4.7,"c":"G"},{"x":0.1,"y":-4.7,"c":"G"},{"x":0.65,"y":-4.6,"c":"G"},{"x":1.45,"y":-4.68,"c":"G"},{"x":-0.8,"y":-4.82,"c":"G"},{"x":-0.5,"y":-4.85,"c":"G"},{"x":-0.25,"y":-4.82,"c":"G"},{"x":0.3,"y":-4.72,"c":"G"},{"x":0.55,"y":-4.8,"c":"G"},{"x":0.85,"y":-4.75,"c":"G"},{"x":1.35,"y":-4.8,"c":"G"},{"x":1.55,"y":-4.72,"c":"G"},{"x":-0.5,"y":-4.97,"c":"G"},{"x":-0.3,"y":-4.95,"c":"G"},{"x":0.85,"y":-4.9,"c":"G"},{"x":1.55,"y":-4.9,"c":"G"},{"x":0.9,"y":-5.0,"c":"G"},{"x":1.2,"y":-5.05,"c":"G"},{"x":1.05,"y":-5.15,"c":"G"},{"x":1.3,"y":-5.25,"c":"G"},{"x":1.45,"y":-5.55,"c":"G"},{"x":1.6,"y":-5.55,"c":"G"},{"x":1.3,"y":-5.65,"c":"G"},{"x":1.4,"y":-5.75,"c":"G"},
{"x":2.25,"y":-1.0,"c":"G"},{"x":2.3,"y":-1.08,"c":"G"},{"x":2.4,"y":-1.22,"c":"G"},{"x":2.35,"y":-1.52,"c":"G"},{"x":2.75,"y":-1.45,"c":"G"},{"x":2.9,"y":-1.55,"c":"G"},{"x":1.7,"y":-1.52,"c":"G"},{"x":2.0,"y":-1.42,"c":"G"},{"x":2.8,"y":-1.7,"c":"G"},{"x":2.55,"y":-1.85,"c":"G"},{"x":2.95,"y":-1.85,"c":"G"},{"x":2.7,"y":-1.95,"c":"G"},{"x":2.4,"y":-2.0,"c":"G"},{"x":2.85,"y":-2.0,"c":"G"},{"x":3.1,"y":-2.0,"c":"G"},{"x":2.6,"y":-2.1,"c":"G"},{"x":2.95,"y":-2.15,"c":"G"},{"x":2.45,"y":-2.18,"c":"G"},{"x":1.85,"y":-2.25,"c":"G"},{"x":2.7,"y":-2.25,"c":"G"},{"x":3.1,"y":-2.28,"c":"G"},{"x":2.75,"y":-2.38,"c":"G"},{"x":3.25,"y":-2.38,"c":"G"},{"x":1.75,"y":-2.38,"c":"G"},{"x":2.9,"y":-2.45,"c":"G"},{"x":3.4,"y":-2.45,"c":"G"},{"x":3.05,"y":-2.5,"c":"G"},{"x":1.55,"y":-2.5,"c":"G"},{"x":3.3,"y":-2.55,"c":"G"},{"x":2.95,"y":-2.6,"c":"G"},{"x":3.35,"y":-2.62,"c":"G"},{"x":2.25,"y":-2.62,"c":"G"},{"x":1.75,"y":-2.6,"c":"G"},{"x":3.15,"y":-2.72,"c":"G"},{"x":2.85,"y":-2.72,"c":"G"},{"x":3.35,"y":-2.8,"c":"G"},{"x":1.55,"y":-2.78,"c":"G"},{"x":1.85,"y":-2.8,"c":"G"},{"x":2.3,"y":-2.85,"c":"G"},{"x":3.05,"y":-2.88,"c":"G"},{"x":2.65,"y":-2.92,"c":"G"},{"x":2.85,"y":-2.95,"c":"G"},{"x":3.15,"y":-2.95,"c":"G"},{"x":1.85,"y":-3.02,"c":"G"},{"x":2.55,"y":-3.05,"c":"G"},{"x":2.75,"y":-3.1,"c":"G"},{"x":2.95,"y":-3.05,"c":"G"},{"x":2.45,"y":-3.18,"c":"G"},{"x":2.9,"y":-3.2,"c":"G"},{"x":3.1,"y":-3.28,"c":"G"},{"x":2.2,"y":-3.3,"c":"G"},{"x":2.6,"y":-3.28,"c":"G"},{"x":2.4,"y":-3.35,"c":"G"},{"x":2.85,"y":-3.35,"c":"G"},{"x":3.15,"y":-3.38,"c":"G"},{"x":2.7,"y":-3.42,"c":"G"},{"x":2.55,"y":-3.5,"c":"G"},{"x":1.75,"y":-3.5,"c":"G"},{"x":2.1,"y":-3.55,"c":"G"},{"x":2.55,"y":-3.65,"c":"G"},{"x":2.3,"y":-3.68,"c":"G"},{"x":2.3,"y":-3.85,"c":"G"},{"x":2.1,"y":-3.85,"c":"G"},{"x":2.0,"y":-3.98,"c":"G"},{"x":2.45,"y":-3.85,"c":"G"},{"x":2.2,"y":-4.05,"c":"G"},{"x":2.05,"y":-4.08,"c":"G"},{"x":1.6,"y":-4.05,"c":"G"},{"x":2.2,"y":-4.22,"c":"G"},
{"x":1.15,"y":-5.55,"c":"G"},{"x":5.4,"y":3.3,"c":"G"},{"x":6.05,"y":2.9,"c":"G"},{"x":5.65,"y":2.7,"c":"G"},{"x":5.55,"y":2.35,"c":"G"},{"x":5.55,"y":2.3,"c":"G"},{"x":6.9,"y":2.1,"c":"G"},{"x":3.25,"y":1.45,"c":"G"},{"x":6.8,"y":1.3,"c":"G"},{"x":5.95,"y":1.18,"c":"G"},{"x":6.35,"y":1.15,"c":"G"},{"x":3.6,"y":1.1,"c":"G"},{"x":5.5,"y":0.8,"c":"G"},{"x":3.3,"y":0.4,"c":"G"},{"x":3.6,"y":0.35,"c":"G"},{"x":3.75,"y":0.5,"c":"G"},{"x":4.0,"y":0.55,"c":"G"},{"x":3.65,"y":0.22,"c":"G"},{"x":3.75,"y":0.15,"c":"G"},{"x":3.85,"y":0.05,"c":"G"},{"x":4.1,"y":0.28,"c":"G"},{"x":3.8,"y":-0.02,"c":"G"},{"x":4.0,"y":-0.05,"c":"G"},{"x":4.3,"y":0.1,"c":"G"},{"x":3.35,"y":-0.4,"c":"G"},{"x":4.25,"y":-0.5,"c":"G"},{"x":4.2,"y":-0.8,"c":"G"},{"x":5.15,"y":0.05,"c":"G"},{"x":6.3,"y":-0.05,"c":"G"},
{"x":-5.35,"y":3.05,"c":"G"},{"x":-5.05,"y":3.05,"c":"G"},{"x":-4.95,"y":2.72,"c":"G"},{"x":-4.75,"y":2.65,"c":"G"},{"x":0.7,"y":-2.2,"c":"G"},
{"x":-5.45,"y":3.1,"c":"E"},{"x":-5.45,"y":3.0,"c":"E"},{"x":-5.55,"y":2.95,"c":"E"},{"x":-5.35,"y":2.92,"c":"E"},{"x":-5.5,"y":2.85,"c":"E"},{"x":-5.35,"y":2.82,"c":"E"},{"x":-5.2,"y":2.7,"c":"E"},{"x":-5.05,"y":2.62,"c":"E"},{"x":-5.6,"y":2.45,"c":"E"},{"x":-5.75,"y":2.42,"c":"E"},{"x":-5.55,"y":2.38,"c":"E"},{"x":-5.15,"y":2.4,"c":"E"},{"x":-5.8,"y":2.25,"c":"E"},{"x":-5.55,"y":2.2,"c":"E"},{"x":-5.45,"y":2.25,"c":"E"},{"x":-6.05,"y":2.1,"c":"E"},{"x":-5.85,"y":2.03,"c":"E"},{"x":-5.6,"y":2.08,"c":"E"},{"x":-5.45,"y":2,"c":"E"},{"x":-5.2,"y":2.05,"c":"E"},{"x":-5.7,"y":1.87,"c":"E"},{"x":-5.45,"y":1.88,"c":"E"},{"x":-5.8,"y":1.78,"c":"E"},{"x":-5.3,"y":1.75,"c":"E"},{"x":-5.05,"y":1.88,"c":"E"},{"x":-6.0,"y":1.65,"c":"E"},{"x":-5.6,"y":1.62,"c":"E"},{"x":-5.13,"y":1.66,"c":"E"},{"x":-4.7,"y":1.7,"c":"E"},{"x":-6.28,"y":1.5,"c":"E"},{"x":-5.83,"y":1.56,"c":"E"},{"x":-5.52,"y":1.44,"c":"E"},{"x":-5.22,"y":1.53,"c":"E"},{"x":-4.88,"y":1.47,"c":"E"},{"x":-6.12,"y":1.38,"c":"E"},{"x":-5.93,"y":1.31,"c":"E"},{"x":-5.66,"y":1.36,"c":"E"},{"x":-5.31,"y":1.33,"c":"E"},{"x":-5.02,"y":1.41,"c":"E"},{"x":-4.33,"y":1.44,"c":"E"},{"x":-6.34,"y":1.24,"c":"E"},{"x":-6.03,"y":1.19,"c":"E"},{"x":-5.77,"y":1.28,"c":"E"},{"x":-5.51,"y":1.17,"c":"E"},{"x":-5.26,"y":1.22,"c":"E"},{"x":-5.08,"y":1.3,"c":"E"},{"x":-4.72,"y":1.33,"c":"E"},{"x":-4.48,"y":1.19,"c":"E"},{"x":-6.62,"y":1.16,"c":"E"},{"x":-6.42,"y":1.07,"c":"E"},{"x":-6.18,"y":1.1,"c":"E"},{"x":-5.87,"y":1.04,"c":"E"},{"x":-5.64,"y":1.12,"c":"E"},{"x":-5.38,"y":1.04,"c":"E"},{"x":-5.12,"y":1.17,"c":"E"},{"x":-4.83,"y":1.06,"c":"E"},{"x":-4.63,"y":1.18,"c":"E"},{"x":-4.12,"y":1.23,"c":"E"},{"x":-3.88,"y":1.12,"c":"E"},{"x":-6.88,"y":1.0,"c":"E"},{"x":-6.52,"y":0.94,"c":"E"},{"x":-6.27,"y":0.98,"c":"E"},{"x":-6.07,"y":0.91,"c":"E"},{"x":-5.76,"y":0.96,"c":"E"},{"x":-5.53,"y":0.88,"c":"E"},{"x":-5.28,"y":0.97,"c":"E"},{"x":-5.03,"y":0.93,"c":"E"},{"x":-4.77,"y":0.96,"c":"E"},{"x":-4.52,"y":0.91,"c":"E"},{"x":-3.38,"y":1.04,"c":"E"},{"x":-2.88,"y":1.14,"c":"E"},{"x":-6.71,"y":0.86,"c":"E"},{"x":-6.42,"y":0.81,"c":"E"},{"x":-6.16,"y":0.8,"c":"E"},{"x":-5.98,"y":0.84,"c":"E"},{"x":-5.66,"y":0.78,"c":"E"},{"x":-5.41,"y":0.82,"c":"E"},{"x":-5.23,"y":0.74,"c":"E"},{"x":-4.91,"y":0.83,"c":"E"},{"x":-4.68,"y":0.79,"c":"E"},{"x":-3.73,"y":0.93,"c":"E"},{"x":-3.52,"y":0.86,"c":"E"},{"x":-3.18,"y":0.91,"c":"E"},{"x":-6.58,"y":0.72,"c":"E"},{"x":-6.33,"y":0.68,"c":"E"},{"x":-6.07,"y":0.7,"c":"E"},{"x":-5.88,"y":0.66,"c":"E"},{"x":-5.57,"y":0.69,"c":"E"},{"x":-5.33,"y":0.63,"c":"E"},{"x":-5.07,"y":0.7,"c":"E"},{"x":-4.83,"y":0.65,"c":"E"},{"x":-4.47,"y":0.71,"c":"E"},{"x":-3.83,"y":0.74,"c":"E"},{"x":-3.62,"y":0.69,"c":"E"},{"x":-3.28,"y":0.75,"c":"E"},{"x":-3.03,"y":0.69,"c":"E"},{"x":-6.73,"y":0.58,"c":"E"},{"x":-6.47,"y":0.55,"c":"E"},{"x":-6.22,"y":0.58,"c":"E"},{"x":-5.96,"y":0.52,"c":"E"},{"x":-5.72,"y":0.57,"c":"E"},{"x":-5.47,"y":0.53,"c":"E"},{"x":-5.18,"y":0.55,"c":"E"},{"x":-4.93,"y":0.52,"c":"E"},{"x":-4.72,"y":0.58,"c":"E"},{"x":-3.67,"y":0.55,"c":"E"},{"x":-3.38,"y":0.58,"c":"E"},{"x":-6.52,"y":0.44,"c":"E"},{"x":-6.28,"y":0.4,"c":"E"},{"x":-6.03,"y":0.45,"c":"E"},{"x":-5.77,"y":0.41,"c":"E"},{"x":-5.52,"y":0.43,"c":"E"},{"x":-5.22,"y":0.38,"c":"E"},{"x":-4.98,"y":0.42,"c":"E"},{"x":-4.77,"y":0.38,"c":"E"},{"x":-4.43,"y":0.46,"c":"E"},{"x":-4.13,"y":0.4,"c":"E"},{"x":-6.37,"y":0.3,"c":"E"},{"x":-6.13,"y":0.27,"c":"E"},{"x":-5.83,"y":0.32,"c":"E"},{"x":-5.62,"y":0.28,"c":"E"},{"x":-5.33,"y":0.3,"c":"E"},{"x":-5.12,"y":0.26,"c":"E"},{"x":-4.83,"y":0.31,"c":"E"},{"x":-3.78,"y":0.34,"c":"E"},{"x":-6.57,"y":0.18,"c":"E"},{"x":-6.23,"y":0.14,"c":"E"},{"x":-6.02,"y":0.18,"c":"E"},{"x":-5.73,"y":0.13,"c":"E"},{"x":-5.48,"y":0.19,"c":"E"},{"x":-5.27,"y":0.15,"c":"E"},{"x":-4.97,"y":0.17,"c":"E"},{"x":-4.68,"y":0.15,"c":"E"},{"x":-4.38,"y":0.2,"c":"E"},{"x":-3.48,"y":0.22,"c":"E"},{"x":-3.22,"y":0.16,"c":"E"},{"x":-6.32,"y":0.03,"c":"E"},{"x":-6.03,"y":0.05,"c":"E"},{"x":-5.82,"y":0.01,"c":"E"},{"x":-5.53,"y":0.06,"c":"E"},{"x":-5.32,"y":0,"c":"E"},{"x":-5.03,"y":0.05,"c":"E"},{"x":-4.78,"y":0.01,"c":"E"},{"x":-4.53,"y":0.04,"c":"E"},{"x":-3.73,"y":0.06,"c":"E"},{"x":-3.43,"y":0.03,"c":"E"},{"x":-6.13,"y":-0.09,"c":"E"},{"x":-5.88,"y":-0.12,"c":"E"},{"x":-5.63,"y":-0.07,"c":"E"},{"x":-5.42,"y":-0.12,"c":"E"},{"x":-5.13,"y":-0.08,"c":"E"},{"x":-4.92,"y":-0.13,"c":"E"},{"x":-4.63,"y":-0.09,"c":"E"},{"x":-4.28,"y":-0.11,"c":"E"},{"x":-3.93,"y":-0.06,"c":"E"},{"x":-3.53,"y":-0.12,"c":"E"},{"x":-3.18,"y":-0.08,"c":"E"},{"x":-5.97,"y":-0.22,"c":"E"},{"x":-5.73,"y":-0.24,"c":"E"},{"x":-5.52,"y":-0.19,"c":"E"},{"x":-5.23,"y":-0.25,"c":"E"},{"x":-5.02,"y":-0.2,"c":"E"},{"x":-4.73,"y":-0.23,"c":"E"},{"x":-3.88,"y":-0.24,"c":"E"},{"x":-3.48,"y":-0.22,"c":"E"},{"x":-3.18,"y":-0.27,"c":"E"},{"x":-5.83,"y":-0.36,"c":"E"},{"x":-5.62,"y":-0.33,"c":"E"},{"x":-5.33,"y":-0.37,"c":"E"},{"x":-5.12,"y":-0.33,"c":"E"},{"x":-4.83,"y":-0.37,"c":"E"},{"x":-4.53,"y":-0.35,"c":"E"},{"x":-3.83,"y":-0.38,"c":"E"},{"x":-3.58,"y":-0.34,"c":"E"},{"x":-3.28,"y":-0.39,"c":"E"},{"x":-2.88,"y":-0.36,"c":"E"},{"x":-5.73,"y":-0.49,"c":"E"},{"x":-5.48,"y":-0.46,"c":"E"},{"x":-5.23,"y":-0.5,"c":"E"},{"x":-4.98,"y":-0.46,"c":"E"},{"x":-4.73,"y":-0.49,"c":"E"},{"x":-4.43,"y":-0.47,"c":"E"},{"x":-4.08,"y":-0.5,"c":"E"},{"x":-3.68,"y":-0.49,"c":"E"},{"x":-3.43,"y":-0.52,"c":"E"},{"x":-5.53,"y":-0.62,"c":"E"},{"x":-5.28,"y":-0.58,"c":"E"},{"x":-5.03,"y":-0.63,"c":"E"},{"x":-4.78,"y":-0.59,"c":"E"},{"x":-4.53,"y":-0.63,"c":"E"},{"x":-3.98,"y":-0.62,"c":"E"},{"x":-3.68,"y":-0.66,"c":"E"},{"x":-5.43,"y":-0.74,"c":"E"},{"x":-5.18,"y":-0.72,"c":"E"},{"x":-4.93,"y":-0.76,"c":"E"},{"x":-4.68,"y":-0.72,"c":"E"},{"x":-4.33,"y":-0.74,"c":"E"},{"x":-3.53,"y":-0.77,"c":"E"},{"x":-5.6,"y":-0.85,"c":"E"},{"x":-5.3,"y":-0.98,"c":"E"},{"x":-5.4,"y":-1.02,"c":"E"},{"x":-5.25,"y":-1.05,"c":"E"},{"x":-5.05,"y":-0.95,"c":"E"},{"x":-4.8,"y":-0.95,"c":"E"},{"x":-3.05,"y":-0.75,"c":"E"},{"x":-5.5,"y":-0.95,"c":"E"},
{"x":0.5,"y":4.55,"c":"E"},{"x":1.18,"y":2.25,"c":"E"},{"x":2.45,"y":-1.3,"c":"E"},{"x":2.55,"y":-1.3,"c":"E"},{"x":1.25,"y":-5.7,"c":"E"},{"x":1.35,"y":-5.75,"c":"E"},{"x":1.3,"y":-5.8,"c":"E"},{"x":1.35,"y":-5.85,"c":"E"},{"x":1.25,"y":-5.88,"c":"E"},{"x":1.35,"y":-5.92,"c":"E"},{"x":1.2,"y":-5.95,"c":"E"},{"x":1.3,"y":-5.98,"c":"E"},{"x":1.15,"y":-6.02,"c":"E"},{"x":1.05,"y":-6.05,"c":"E"},{"x":1.0,"y":-6.1,"c":"E"},{"x":1.1,"y":-6.15,"c":"E"},{"x":2.8,"y":1.25,"c":"E"},{"x":-2.85,"y":0.85,"c":"E"},
{"x":6.2,"y":3.35,"c":"C"},{"x":6.05,"y":3.25,"c":"C"},{"x":6.35,"y":3.28,"c":"C"},{"x":6.2,"y":3.18,"c":"C"},{"x":6.45,"y":3.15,"c":"C"},{"x":5.85,"y":3.08,"c":"C"},{"x":6.1,"y":3.08,"c":"C"},{"x":6.35,"y":3.05,"c":"C"},{"x":6.6,"y":3.1,"c":"C"},{"x":5.6,"y":2.98,"c":"C"},{"x":5.8,"y":2.95,"c":"C"},{"x":6.05,"y":2.95,"c":"C"},{"x":6.6,"y":2.95,"c":"C"},{"x":6.75,"y":2.85,"c":"C"},{"x":5.35,"y":2.85,"c":"C"},{"x":5.55,"y":2.85,"c":"C"},{"x":5.85,"y":2.85,"c":"C"},{"x":6.55,"y":2.82,"c":"C"},{"x":5.1,"y":2.75,"c":"C"},{"x":5.35,"y":2.72,"c":"C"},{"x":6.7,"y":2.72,"c":"C"},{"x":6.85,"y":2.7,"c":"C"},{"x":4.9,"y":2.65,"c":"C"},{"x":5.1,"y":2.62,"c":"C"},{"x":6.25,"y":2.65,"c":"C"},{"x":6.65,"y":2.6,"c":"C"},{"x":6.85,"y":2.55,"c":"C"},{"x":4.7,"y":2.55,"c":"C"},{"x":6.05,"y":2.52,"c":"C"},{"x":6.5,"y":2.5,"c":"C"},{"x":6.75,"y":2.48,"c":"C"},{"x":6.95,"y":2.42,"c":"C"},{"x":4.2,"y":2.52,"c":"C"},{"x":4.4,"y":2.55,"c":"C"},{"x":4.05,"y":2.45,"c":"C"},{"x":4.2,"y":2.42,"c":"C"},{"x":4.35,"y":2.45,"c":"C"},{"x":4.5,"y":2.42,"c":"C"},{"x":4.65,"y":2.45,"c":"C"},{"x":4.05,"y":2.35,"c":"C"},{"x":4.2,"y":2.32,"c":"C"},{"x":4.35,"y":2.35,"c":"C"},{"x":4.5,"y":2.3,"c":"C"},{"x":5.75,"y":2.35,"c":"C"},{"x":6.0,"y":2.33,"c":"C"},{"x":6.85,"y":2.28,"c":"C"},{"x":4.15,"y":2.22,"c":"C"},{"x":4.3,"y":2.25,"c":"C"},{"x":4.5,"y":2.2,"c":"C"},{"x":6.25,"y":2.22,"c":"C"},{"x":6.75,"y":2.18,"c":"C"},{"x":4.35,"y":2.1,"c":"C"},{"x":4.15,"y":2.03,"c":"C"},{"x":5.85,"y":2.12,"c":"C"},{"x":6.4,"y":2.1,"c":"C"},{"x":6.95,"y":2.12,"c":"C"},{"x":6.0,"y":1.98,"c":"C"},{"x":6.55,"y":1.98,"c":"C"},{"x":5.85,"y":1.85,"c":"C"},{"x":6.25,"y":1.85,"c":"C"},{"x":6.9,"y":1.85,"c":"C"},{"x":6.65,"y":1.8,"c":"C"},{"x":6.05,"y":1.72,"c":"C"},{"x":3.75,"y":1.72,"c":"C"},{"x":3.5,"y":1.7,"c":"C"},{"x":6.45,"y":1.68,"c":"C"},{"x":6.65,"y":1.68,"c":"C"},{"x":6.85,"y":1.68,"c":"C"},{"x":6.3,"y":1.58,"c":"C"},{"x":6.55,"y":1.55,"c":"C"},{"x":6.75,"y":1.58,"c":"C"},{"x":5.05,"y":1.55,"c":"C"},{"x":6.05,"y":1.48,"c":"C"},{"x":6.4,"y":1.42,"c":"C"},{"x":6.65,"y":1.45,"c":"C"},{"x":6.9,"y":1.48,"c":"C"},{"x":3.35,"y":1.4,"c":"C"},{"x":5.05,"y":1.4,"c":"C"},{"x":5.95,"y":1.35,"c":"C"},{"x":6.2,"y":1.32,"c":"C"},{"x":6.55,"y":1.32,"c":"C"},{"x":6.8,"y":1.35,"c":"C"},{"x":3.0,"y":1.3,"c":"C"},{"x":3.45,"y":1.3,"c":"C"},{"x":3.7,"y":1.32,"c":"C"},{"x":5.4,"y":1.3,"c":"C"},{"x":5.55,"y":1.25,"c":"C"},{"x":6.15,"y":1.2,"c":"C"},{"x":6.6,"y":1.18,"c":"C"},{"x":6.85,"y":1.2,"c":"C"},{"x":2.85,"y":1.15,"c":"C"},{"x":3.05,"y":1.15,"c":"C"},{"x":3.4,"y":1.18,"c":"C"},{"x":5.35,"y":1.15,"c":"C"},{"x":5.8,"y":1.1,"c":"C"},{"x":6.45,"y":1.08,"c":"C"},{"x":6.7,"y":1.05,"c":"C"},{"x":6.95,"y":1.08,"c":"C"},{"x":3.05,"y":1.02,"c":"C"},{"x":3.5,"y":1.02,"c":"C"},{"x":3.85,"y":1.02,"c":"C"},{"x":5.6,"y":1.0,"c":"C"},{"x":6.05,"y":0.98,"c":"C"},{"x":6.3,"y":0.95,"c":"C"},{"x":6.55,"y":0.92,"c":"C"},{"x":6.85,"y":0.95,"c":"C"},{"x":3.0,"y":0.9,"c":"C"},{"x":4.3,"y":0.9,"c":"C"},{"x":5.3,"y":0.85,"c":"C"},{"x":5.85,"y":0.85,"c":"C"},{"x":6.15,"y":0.82,"c":"C"},{"x":6.4,"y":0.8,"c":"C"},{"x":6.65,"y":0.82,"c":"C"},{"x":7.0,"y":0.85,"c":"C"},{"x":5.6,"y":0.72,"c":"C"},{"x":5.95,"y":0.7,"c":"C"},{"x":6.25,"y":0.68,"c":"C"},{"x":6.5,"y":0.68,"c":"C"},{"x":6.8,"y":0.68,"c":"C"},{"x":7.05,"y":0.72,"c":"C"},{"x":5.75,"y":0.58,"c":"C"},{"x":6.05,"y":0.55,"c":"C"},{"x":6.3,"y":0.55,"c":"C"},{"x":6.6,"y":0.55,"c":"C"},{"x":6.85,"y":0.58,"c":"C"},{"x":5.3,"y":0.5,"c":"C"},{"x":5.55,"y":0.45,"c":"C"},{"x":5.8,"y":0.45,"c":"C"},{"x":6.05,"y":0.42,"c":"C"},{"x":6.35,"y":0.42,"c":"C"},{"x":6.65,"y":0.42,"c":"C"},{"x":5.25,"y":0.35,"c":"C"},{"x":5.45,"y":0.33,"c":"C"},{"x":5.7,"y":0.32,"c":"C"},{"x":5.95,"y":0.3,"c":"C"},{"x":6.2,"y":0.32,"c":"C"},{"x":6.5,"y":0.28,"c":"C"},{"x":5.35,"y":0.22,"c":"C"},{"x":5.6,"y":0.2,"c":"C"},{"x":5.85,"y":0.2,"c":"C"},{"x":6.05,"y":0.18,"c":"C"},{"x":6.3,"y":0.2,"c":"C"},{"x":6.6,"y":0.18,"c":"C"},{"x":5.5,"y":0.08,"c":"C"},{"x":5.7,"y":0.08,"c":"C"},{"x":5.9,"y":0.08,"c":"C"},{"x":6.15,"y":0.05,"c":"C"},{"x":6.95,"y":0.15,"c":"C"},{"x":5.35,"y":-0.02,"c":"C"},{"x":5.6,"y":-0.03,"c":"C"},{"x":5.8,"y":-0.02,"c":"C"},{"x":6.05,"y":-0.05,"c":"C"},{"x":5.2,"y":-0.12,"c":"C"},{"x":5.65,"y":-0.15,"c":"C"},{"x":5.85,"y":-0.13,"c":"C"},{"x":6.1,"y":-0.13,"c":"C"},{"x":5.5,"y":-0.12,"c":"C"},{"x":5.75,"y":-0.25,"c":"C"},{"x":5.95,"y":-0.25,"c":"C"},{"x":5.85,"y":-0.35,"c":"C"}
]},
"hconcat":[
{"width":194,"height":340,"title":{"text":"Healthy","dx":16,"offset":-20,"baseline":"bottom"},
"layer":[
{"data":{"name":"healthy"},"mark":{"type":"circle","size":8,"opacity":1},"encoding":{
"x":{"field":"x","type":"quantitative","scale":{"domain":[-7.76,7.76],"nice":false,"zero":false},"axis":{"values":[-4,0,4],"format":"d","title":"UMAP_1","titleX":196,"titleY":44,"titleBaseline":"middle","tickSize":2,"labelPadding":7,"domainWidth":1.2}},
"y":{"field":"y","type":"quantitative","scale":{"domain":[-6.63,5.28],"nice":false,"zero":false},"axis":{"values":[-6,-3,0,3],"format":"d","title":"UMAP_2","titleX":-51,"titleY":169,"titleAlign":"center","titleBaseline":"middle","tickSize":2,"labelPadding":7,"domainWidth":1.2}},
"color":{"field":"c","type":"nominal","scale":{"domain":["G","E","C"],"range":["#FB9C8F","#17B038","#6FABD8"]},"legend":{"orient":"none","legendX":-7,"legendY":417,"title":null,"direction":"vertical","symbolType":"circle","symbolSize":18,"symbolOpacity":1,"labelOffset":0,"rowPadding":9.5,"labelExpr":"{'G':'NK(GZMH)','E':'NK(EGR1)','C':'NK(CAPG)'}[datum.label]"}}}},
{"data":{"values":[{"t":"(a)","x":5.52,"y":-12.98}]},"mark":{"type":"text","fontSize":18.5,"color":"#222222","baseline":"middle","clip":false},"encoding":{"x":{"field":"x","type":"quantitative"},"y":{"field":"y","type":"quantitative"},"text":{"field":"t"}}}
]},
{"width":194,"height":340,"title":{"text":"Tumor","dx":-18,"offset":-20,"baseline":"bottom"},
"layer":[
{"data":{"name":"tumor"},"mark":{"type":"circle","size":8,"opacity":1},"encoding":{
"x":{"field":"x","type":"quantitative","scale":{"domain":[-7.8,7.72],"nice":false,"zero":false},"axis":{"values":[-4,0,4],"format":"d","title":null,"tickSize":2,"labelPadding":7,"domainWidth":1.2}},
"y":{"field":"y","type":"quantitative","scale":{"domain":[-6.63,5.28],"nice":false,"zero":false},"axis":null},
"color":{"field":"c","type":"nominal","scale":{"domain":["G","E","C"],"range":["#FB9C8F","#17B038","#6FABD8"]},"legend":null}}},
{"data":{"values":[{"t":"(b)","x":26.1,"y":-12.98}]},"mark":{"type":"text","fontSize":18.5,"color":"#222222","baseline":"middle","clip":false},"encoding":{"x":{"field":"x","type":"quantitative"},"y":{"field":"y","type":"quantitative"},"text":{"field":"t"}}}
]},
{"width":421,"height":297,
"data":{"values":[{"g":"Healthy","c":"C","o":1,"v":0.026},{"g":"Healthy","c":"E","o":2,"v":0.136},{"g":"Healthy","c":"G","o":3,"v":0.838},{"g":"Tumor","c":"C","o":1,"v":0.192},{"g":"Tumor","c":"E","o":2,"v":0.291},{"g":"Tumor","c":"G","o":3,"v":0.513}]},
"mark":{"type":"bar","clip":true},
"encoding":{
"x":{"field":"g","type":"nominal","sort":null,"scale":{"range":[66,437],"paddingInner":0.1,"paddingOuter":0.037},"axis":{"title":"Frequency","labelAngle":0,"labelFontSize":18.5,"domain":false,"ticks":false,"labelPadding":9,"titleX":252,"titleY":47,"titleBaseline":"middle"}},
"y":{"field":"v","type":"quantitative","stack":"zero","scale":{"domain":[0,1.096],"nice":false,"zero":false},"axis":{"offset":-66,"values":[0,0.25,0.5,0.75,1],"format":".2f","labelFontSize":16.5,"domain":false,"tickSize":1.5,"labelPadding":12,"labelOffset":-4,"title":"Frequencies","titleAngle":0,"titleAlign":"left","titleBaseline":"middle","titleX":-62,"titleY":-7}},
"color":{"field":"c","type":"nominal","scale":{"domain":["G","E","C"],"range":["#FB9C8F","#17B038","#6FABD8"]},"legend":{"orient":"none","legendX":73,"legendY":379,"title":"Seurat_clusters","direction":"vertical","columns":2,"columnPadding":60,"rowPadding":9,"symbolType":"square","symbolSize":121,"symbolStrokeWidth":0,"symbolOffset":6,"labelOffset":5,"titlePadding":10,"labelExpr":"{'G':'NK(GZMH)','E':'NK(EGR1)','C':'NK(CAPG)'}[datum.label]"}},
"order":{"field":"o","type":"quantitative"}}}
]}
